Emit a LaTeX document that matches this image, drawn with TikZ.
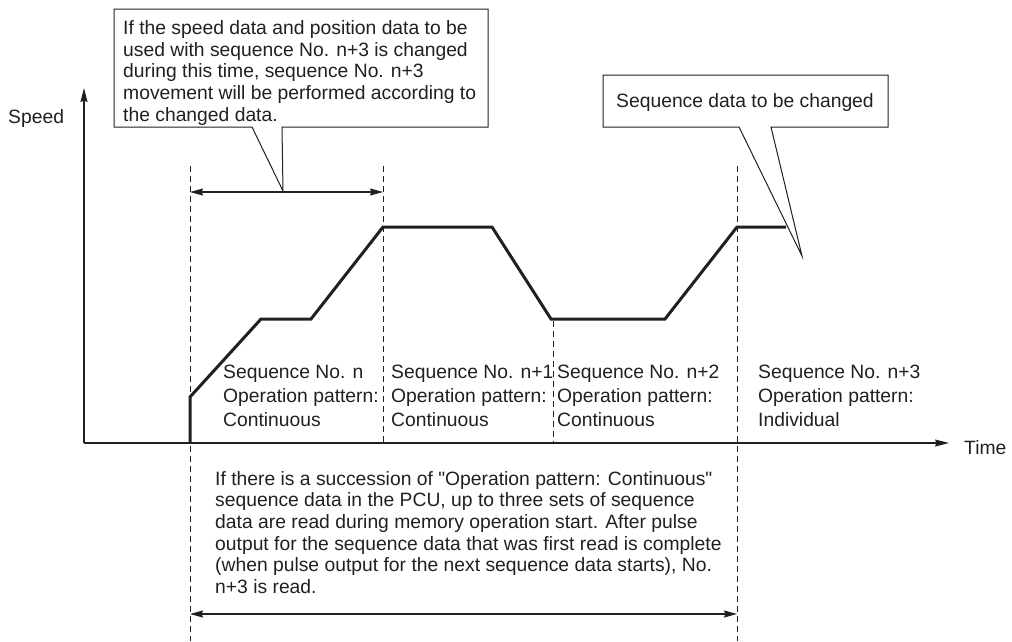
\documentclass[tikz,border=0pt]{standalone}
\usepackage{fontspec}
\setmainfont{Liberation Sans}
\usetikzlibrary{arrows.meta,calc}
\definecolor{ink}{RGB}{35,31,32}
\tikzset{
  txt/.style={font=\fontsize{19.3}{21.7}\selectfont, text=ink, inner sep=0pt, align=left, anchor=north west},
  lbl/.style={txt, font=\fontsize{19.3}{24}\selectfont},
  axisline/.style={line width=1.2pt, draw=ink, -{Stealth[length=14pt,width=7pt,inset=1.5pt]}},
  spanline/.style={line width=1.3pt, draw=ink, {Stealth[length=13pt,width=7pt,inset=1.5pt]}-{Stealth[length=13pt,width=7pt,inset=1.5pt]}},
  guide/.style={line width=0.9pt, draw=ink, dash pattern=on 6pt off 4pt},
  profile/.style={line width=3pt, draw=ink, line join=miter},
  callout/.style={line width=1pt, draw=ink, fill=white, line join=miter},
}
\begin{document}
\begin{tikzpicture}[x=1pt,y=-1pt]
\useasboundingbox (0,0) rectangle (1012,641);
% coordinates
\coordinate (O) at (84,443);
\coordinate (ytip) at (84,88);
\coordinate (xtip) at (949,443);
\coordinate (g1t) at (190,166); \coordinate (g1b) at (190,641);
\coordinate (g2t) at (383,166); \coordinate (g2b) at (383,443);
\coordinate (g3t) at (553,321); \coordinate (g3b) at (553,443);
\coordinate (g4t) at (737,166); \coordinate (g4b) at (737,641);
\coordinate (p0) at (190,443);
\coordinate (p1) at (190,397);
\coordinate (p2) at (261,319);
\coordinate (p3) at (311,319);
\coordinate (p4) at (383,227);
\coordinate (p5) at (492,227);
\coordinate (p6) at (551,319);
\coordinate (p7) at (665,319);
\coordinate (p8) at (737,227);
\coordinate (p9) at (786,227);
\coordinate (s1a) at (190,192); \coordinate (s1b) at (383,192);
\coordinate (s2a) at (190,614); \coordinate (s2b) at (737,614);
% guides
\draw[guide] (g1t) -- (g1b);
\draw[guide] (g2t) -- (g2b);
\draw[guide] (g3t) -- (g3b);
\draw[guide] (g4t) -- (g4b);
% axes
\draw[axisline] (O) -- (ytip);
\draw[axisline] (O) -- (xtip);
\node[txt, anchor=base west] (speed) at (8,123) {Speed};
\node[txt, anchor=base west] (time) at (964,454) {Time};
% speed profile
\draw[profile] (p0) -- (p1) -- (p2) -- (p3) -- (p4) -- (p5) -- (p6) -- (p7) -- (p8) -- (p9);
% spans
\draw[spanline] (s1a) -- (s1b);
\draw[spanline] (s2a) -- (s2b);
% callout 1
\draw[callout] (114,9) -- (488,9) -- (488,127) -- (282,127) -- (283,191) -- (252,127) -- (114,127) -- cycle;
\node[txt] (note1) at (123,20.3) {If the speed data and position data to be\\used with sequence No. n+3 is changed\\during this time, sequence No. n+3\\movement will be performed according to\\the changed data.};
% callout 2
\draw[callout] (603,75) -- (888,75) -- (888,127) -- (771,127) -- (802,256) -- (739,127) -- (603,127) -- cycle;
\node[txt, anchor=base west] (note2) at (616,107) {Sequence data to be changed};
% sequence labels
\node[lbl] (seq1) at (223,365) {Sequence No. n\\Operation pattern:\\Continuous};
\node[lbl] (seq2) at (391,365) {Sequence No. n+1\\Operation pattern:\\Continuous};
\node[lbl] (seq3) at (557,365) {Sequence No. n+2\\Operation pattern:\\Continuous};
\node[lbl] (seq4) at (758,365) {Sequence No. n+3\\Operation pattern:\\Individual};
% bottom note
\node[txt] (note3) at (215,471) {If there is a succession of \textquotedbl Operation pattern: Continuous\textquotedbl\\sequence data in the PCU, up to three sets of sequence\\data are read during memory operation start. After pulse\\output for the sequence data that was first read is complete\\(when pulse output for the next sequence data starts), No.\\n+3 is read.};
\end{tikzpicture}
\end{document}
